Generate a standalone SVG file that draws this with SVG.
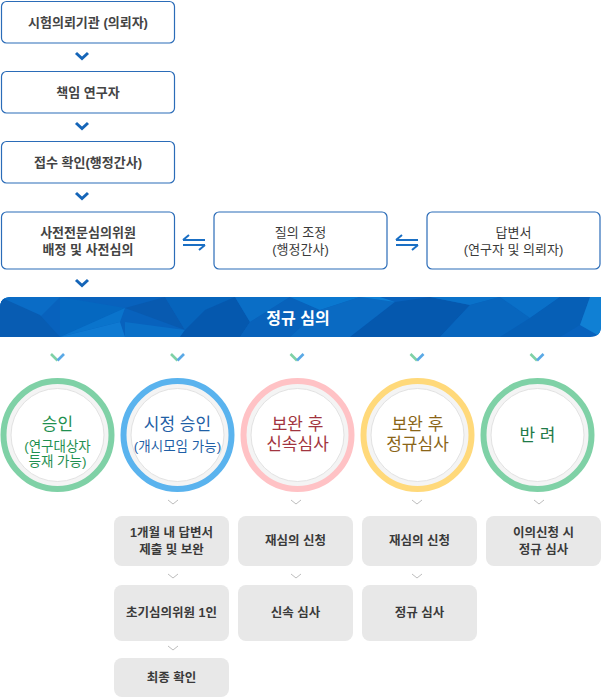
<svg xmlns="http://www.w3.org/2000/svg" width="601" height="697" viewBox="0 0 601 697">
<defs>
<style>
.box{fill:#fff;stroke:#2b6cb8;stroke-width:1.2}
.t{font-family:"Liberation Sans","Noto Sans CJK KR",sans-serif;text-anchor:middle;dominant-baseline:central}
.tb{font-size:13px;font-weight:bold;fill:#444}
.tr{font-size:13px;fill:#3a3a3a}
.chev{fill:none;stroke:#1565b8;stroke-width:3;stroke-linejoin:miter}
.xch{fill:none;stroke:#1a6fc4;stroke-width:2}
.gbox{fill:#e8e8e8}
.gt{font-size:12.5px;font-weight:bold;fill:#3a3a3a}
.gchev{fill:none;stroke:#bdbdbd;stroke-width:1}
.band{fill:#f4f4f4}
.inner{fill:#fff;stroke:#e2e2e2;stroke-width:1}
.ring{fill:none;stroke-width:6}
.c1{font-size:17px}
.c2{font-size:13.5px}
</style>
<g id="xarrow">
<path class="xch" d="M-11,-2.5 H11 M-11,-2.5 L-5,-7.5 M-11,2.5 H11 M11,2.5 L5,7.5"/>
</g>
<g id="cchev">
<path d="M-6.5,-3.5 L0,3" fill="none" stroke="#7fd1a6" stroke-width="2.6"/>
<path d="M0,3 L6.5,-3.5" fill="none" stroke="#5aa9e6" stroke-width="2.6"/>
</g>
<clipPath id="bclip">
<path d="M11,297 H601 V326 Q601,337 590,337 H0 V308 Q0,297 11,297 Z"/>
</clipPath>
</defs>

<g id="connectors">
<path class="chev" d="M76,53 L82,58.5 L88,53"/>
<path class="chev" d="M76,123 L82,128.5 L88,123"/>
<path class="chev" d="M76,193 L82,198.5 L88,193"/>
<path class="chev" d="M76,280 L82,285.5 L88,280"/>
<use href="#xarrow" x="194" y="242.5"/>
<use href="#xarrow" x="407" y="242.5"/>
<use href="#cchev" x="57.5" y="357.5"/>
<use href="#cchev" x="177.5" y="357.5"/>
<use href="#cchev" x="297" y="357.5"/>
<use href="#cchev" x="417" y="357.5"/>
<use href="#cchev" x="537" y="357.5"/>
<path class="gchev" d="M168,500 L173,504 L178,500"/>
<path class="gchev" d="M291,500 L296,504 L301,500"/>
<path class="gchev" d="M412,500 L417,504 L422,500"/>
<path class="gchev" d="M534,500 L539,504 L544,500"/>
<path class="gchev" d="M168,574 L173,578 L178,574"/>
<path class="gchev" d="M291,574 L296,578 L301,574"/>
<path class="gchev" d="M412,574 L417,578 L422,574"/>
<path class="gchev" d="M168,646 L173,650 L178,646"/>
</g>

<g id="n1"><rect class="box" x="1.5" y="1.5" width="173" height="41.5" rx="5"/><text class="t tb" x="88" y="22">시험의뢰기관 (의뢰자)</text></g>
<g id="n2"><rect class="box" x="1.5" y="71.5" width="173" height="41.5" rx="5"/><text class="t tb" x="88" y="92">책임 연구자</text></g>
<g id="n3"><rect class="box" x="1.5" y="141.5" width="173" height="41.5" rx="5"/><text class="t tb" x="88" y="162">접수 확인(행정간사)</text></g>
<g id="n4"><rect class="box" x="1.5" y="212" width="173" height="57" rx="5"/><text class="t tb" x="88" y="232">사전전문심의위원</text><text class="t tb" x="88" y="249.5">배정 및 사전심의</text></g>
<g id="n5"><rect class="box" x="214" y="212" width="173" height="57" rx="5"/><text class="t tr" x="300.5" y="232">질의 조정</text><text class="t tr" x="300.5" y="249.5">(행정간사)</text></g>
<g id="n6"><rect class="box" x="427" y="212" width="173" height="57" rx="5"/><text class="t tr" x="513.5" y="232">답변서</text><text class="t tr" x="513.5" y="249.5">(연구자 및 의뢰자)</text></g>

<g id="banner">
<g clip-path="url(#bclip)">
<rect x="0" y="297" width="601" height="40" fill="#0862bd"/>
<polygon points="0,297 60,297 20,337 0,337" fill="#0a6cc6"/>
<polygon points="0,297 40,315 60,337 0,337" fill="#085cb2"/>
<polygon points="60,297 125,308 60,337" fill="#0568c0"/>
<polygon points="60,337 125,308 120,322" fill="#0a74cc"/>
<polygon points="60,337 120,322 125,337" fill="#0f7ad2"/>
<polygon points="125,308 165,297 185,330" fill="#085ab0"/>
<polygon points="125,337 125,322 185,330 180,337" fill="#0a70c8"/>
<polygon points="165,297 235,297 205,310 185,330" fill="#0664bc"/>
<polygon points="185,330 205,310 235,297 250,322 240,337 180,337" fill="#0558ae"/>
<polygon points="235,297 290,297 250,322" fill="#0a6ec6"/>
<polygon points="250,322 290,297 320,310 290,337 240,337" fill="#0862bb"/>
<polygon points="290,297 360,297 320,310" fill="#0a78d0"/>
<polygon points="320,310 360,297 395,302 350,337 290,337" fill="#0a6ac2"/>
<polygon points="360,297 395,302 380,297" fill="#0f7fd5"/>
<polygon points="395,302 430,297 470,305 440,337 350,337" fill="#0558ae"/>
<polygon points="430,297 500,297 470,305" fill="#0a72ca"/>
<polygon points="470,305 500,297 530,318 500,337 440,337" fill="#0866be"/>
<polygon points="500,297 560,297 530,318" fill="#0a70c8"/>
<polygon points="530,318 560,297 590,297 580,325 560,337 500,337" fill="#065fb6"/>
<polygon points="590,297 601,297 601,337 580,325" fill="#1080d4"/>
</g>
<text class="t" x="298" y="318" font-size="16" font-weight="bold" fill="#fff">정규 심의</text>
</g>

<g id="c1">
<circle class="band" cx="57.5" cy="435" r="52"/><circle class="inner" cx="57.5" cy="435" r="46.5"/><circle class="ring" cx="57.5" cy="435" r="54" stroke="#7fd1a6"/>
<text class="t c1" x="57.5" y="424.5" fill="#1f9050">승인</text>
<text class="t c2" x="57.5" y="446" fill="#1f9050">(연구대상자</text>
<text class="t c2" x="57.5" y="461.5" fill="#1f9050">등재 가능)</text>
</g>
<g id="c2">
<circle class="band" cx="177.5" cy="435" r="52"/><circle class="inner" cx="177.5" cy="435" r="46.5"/><circle class="ring" cx="177.5" cy="435" r="54" stroke="#5ab3ee"/>
<text class="t c1" x="177.5" y="424.5" fill="#1f5fa6">시정 승인</text>
<text class="t c2" x="177.5" y="446" fill="#1f5fa6">(개시모임 가능)</text>
</g>
<g id="c3">
<circle class="band" cx="297.5" cy="435" r="52"/><circle class="inner" cx="297.5" cy="435" r="46.5"/><circle class="ring" cx="297.5" cy="435" r="54" stroke="#ffc2c5"/>
<text class="t c1" x="297.5" y="424" fill="#a23540">보완 후</text>
<text class="t c1" x="297.5" y="444.5" fill="#a23540">신속심사</text>
</g>
<g id="c4">
<circle class="band" cx="417.5" cy="435" r="52"/><circle class="inner" cx="417.5" cy="435" r="46.5"/><circle class="ring" cx="417.5" cy="435" r="54" stroke="#ffd97a"/>
<text class="t c1" x="417.5" y="424" fill="#8a6518">보완 후</text>
<text class="t c1" x="417.5" y="444.5" fill="#8a6518">정규심사</text>
</g>
<g id="c5">
<circle class="band" cx="537.5" cy="435" r="52"/><circle class="inner" cx="537.5" cy="435" r="46.5"/><circle class="ring" cx="537.5" cy="435" r="54" stroke="#7fd1a6"/>
<text class="t c1" x="537.5" y="435" fill="#1f7a48">반 려</text>
</g>

<g id="g1"><rect class="gbox" x="114" y="516" width="115" height="50" rx="8"/><text class="t gt" x="171.5" y="533">1개월 내 답변서</text><text class="t gt" x="171.5" y="550">제출 및 보완</text></g>
<g id="g2"><rect class="gbox" x="114" y="585" width="115" height="56" rx="8"/><text class="t gt" x="171.5" y="613">초기심의위원 1인</text></g>
<g id="g3"><rect class="gbox" x="114" y="658" width="115" height="39" rx="8"/><text class="t gt" x="171.5" y="678">최종 확인</text></g>
<g id="g4"><rect class="gbox" x="238" y="516" width="115" height="50" rx="8"/><text class="t gt" x="295.5" y="541">재심의 신청</text></g>
<g id="g5"><rect class="gbox" x="238" y="585" width="115" height="56" rx="8"/><text class="t gt" x="295.5" y="613">신속 심사</text></g>
<g id="g6"><rect class="gbox" x="362" y="516" width="115" height="50" rx="8"/><text class="t gt" x="419.5" y="541">재심의 신청</text></g>
<g id="g7"><rect class="gbox" x="362" y="585" width="115" height="56" rx="8"/><text class="t gt" x="419.5" y="613">정규 심사</text></g>
<g id="g8"><rect class="gbox" x="486" y="516" width="115" height="50" rx="8"/><text class="t gt" x="543.5" y="533">이의신청 시</text><text class="t gt" x="543.5" y="550">정규 심사</text></g>
</svg>
